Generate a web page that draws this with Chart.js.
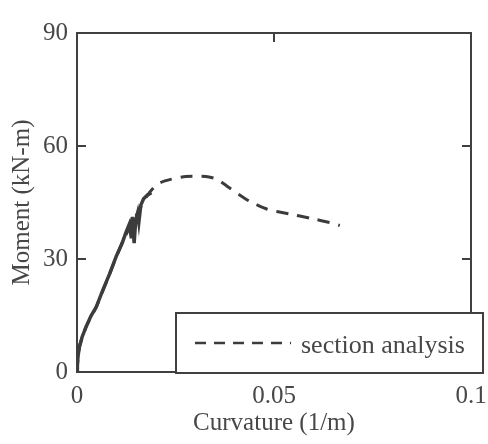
<!DOCTYPE html>
<html>
<head>
<meta charset="utf-8">
<script src="https://cdn.jsdelivr.net/npm/chart.js@4.4.0/dist/chart.umd.min.js"></script>
<style>
  html, body { margin: 0; padding: 0; background: #fff; }
  #wrap { width: 488px; height: 444px; }
</style>
</head>
<body>
<div id="wrap"><canvas id="momentChart" width="488" height="444"></canvas></div>
<script>
// test curve (solid)
const testCurvature = [0, 0.0001, 0.0003, 0.0006, 0.0013, 0.0023, 0.0035, 0.0049, 0.0065, 0.0083, 0.0100, 0.0114, 0.0124, 0.0133, 0.0138, 0.0141, 0.0145, 0.0149, 0.0154, 0.0157, 0.0162, 0.0169, 0.0179, 0.0189];
const testMoment    = [0, 2.3, 4.5, 6.6, 9.3, 12.0, 14.8, 17.3, 21.6, 26.1, 30.8, 34.0, 37.0, 39.3, 35.5, 41.2, 34.2, 40.2, 42.3, 39.8, 44.3, 46.0, 47.0, 47.6];

// section analysis (dashed)
const analysisCurvature = [0, 0.0006, 0.0023, 0.0049, 0.0083, 0.0115, 0.0150, 0.0178, 0.0195, 0.0212, 0.0240, 0.0276, 0.0327, 0.0355, 0.0380, 0.0410, 0.0440, 0.0483, 0.0538, 0.0593, 0.0648, 0.0667];
const analysisMoment    = [0, 6.6, 12.0, 17.3, 26.1, 34.5, 41.5, 46.8, 49.0, 50.3, 51.2, 51.9, 51.9, 51.2, 49.4, 47.2, 45.2, 43.2, 42.0, 40.8, 39.5, 38.9];

// axis ticks
const xTickValues = [0, 0.05, 0.1];
const xTickLabels = ['0', '0.05', '0.1'];
const yTickValues = [0, 30, 60, 90];
const yTickLabels = ['0', '30', '60', '90'];

const inkColor = '#3c3c3c';
const textColor = '#474747';
const serif = "'Liberation Serif', 'Times New Roman', serif";

const toPoints = (xs, ys) => xs.map((x, i) => ({ x, y: ys[i] }));

// box frame with inward tick marks
const framePlugin = {
  id: 'frame',
  beforeDatasetsDraw(chart) {
    const { ctx, chartArea: a, scales: { x, y } } = chart;
    ctx.save();
    ctx.strokeStyle = '#404040';
    ctx.lineWidth = 2;
    ctx.strokeRect(a.left, a.top, a.right - a.left, a.bottom - a.top);
    ctx.beginPath();
    y.ticks.forEach(t => {
      if (t.value <= y.min || t.value >= y.max) return;
      const py = Math.round(y.getPixelForValue(t.value));
      ctx.moveTo(a.left, py); ctx.lineTo(a.left + 9, py);
      ctx.moveTo(a.right, py); ctx.lineTo(a.right - 9, py);
    });
    x.ticks.forEach(t => {
      if (t.value <= x.min || t.value >= x.max) return;
      const px = Math.round(x.getPixelForValue(t.value));
      ctx.moveTo(px, a.top); ctx.lineTo(px, a.top + 9);
      ctx.moveTo(px, a.bottom); ctx.lineTo(px, a.bottom - 9);
    });
    ctx.stroke();
    ctx.restore();
  }
};

// boxed legend in the lower right, only the analysis entry
const boxLegendPlugin = {
  id: 'boxLegend',
  afterDraw(chart) {
    const { ctx } = chart;
    const ds = chart.data.datasets[1];
    const box = { left: 176, top: 313, right: 483, bottom: 373 };
    ctx.save();
    ctx.fillStyle = '#fff';
    ctx.fillRect(box.left, box.top, box.right - box.left, box.bottom - box.top);
    ctx.strokeStyle = '#404040';
    ctx.lineWidth = 2;
    ctx.strokeRect(box.left, box.top, box.right - box.left, box.bottom - box.top);
    ctx.strokeStyle = ds.borderColor;
    ctx.lineWidth = 2.5;
    ctx.setLineDash([11, 8]);
    ctx.beginPath();
    ctx.moveTo(195, 343);
    ctx.lineTo(291, 343);
    ctx.stroke();
    ctx.setLineDash([]);
    ctx.fillStyle = textColor;
    ctx.font = '26px ' + serif;
    ctx.textBaseline = 'alphabetic';
    ctx.fillText(ds.label, 301, 353);
    ctx.restore();
  }
};

new Chart(document.getElementById('momentChart'), {
  type: 'line',
  data: {
    datasets: [
      {
        label: 'test',
        data: toPoints(testCurvature, testMoment),
        borderColor: inkColor,
        borderWidth: 3.5,
        pointRadius: 0,
        tension: 0
      },
      {
        label: 'section analysis',
        data: toPoints(analysisCurvature, analysisMoment),
        borderColor: inkColor,
        borderWidth: 3,
        borderDash: [12, 9],
        pointRadius: 0,
        tension: 0.2
      }
    ]
  },
  options: {
    responsive: false,
    animation: false,
    layout: { padding: { left: 0, top: 33, right: 17, bottom: 6 } },
    plugins: {
      legend: { display: false },
      tooltip: { enabled: false }
    },
    scales: {
      x: {
        type: 'linear',
        min: 0,
        max: 0.1,
        afterBuildTicks: s => { s.ticks = xTickValues.map(v => ({ value: v })); },
        afterFit: s => { s.height = 66; s.paddingLeft = 0; s.paddingRight = 0; },
        ticks: {
          callback: v => xTickLabels[xTickValues.indexOf(v)],
          font: { family: serif, size: 25 },
          color: textColor,
          padding: 9,
          maxRotation: 0,
          autoSkip: false
        },
        grid: { display: false, drawTicks: false },
        border: { display: false },
        title: {
          display: true,
          text: 'Curvature (1/m)',
          font: { family: serif, size: 25 },
          color: textColor,
          padding: { top: 0, bottom: 0 }
        }
      },
      y: {
        type: 'linear',
        min: 0,
        max: 90,
        afterBuildTicks: s => { s.ticks = yTickValues.map(v => ({ value: v })); },
        afterFit: s => { s.width = 77; s.paddingTop = 0; s.paddingBottom = 0; },
        ticks: {
          callback: v => yTickLabels[yTickValues.indexOf(v)],
          font: { family: serif, size: 25 },
          color: textColor,
          padding: 9
        },
        grid: { display: false, drawTicks: false },
        border: { display: false },
        title: {
          display: true,
          text: 'Moment (kN-m)',
          font: { family: serif, size: 25 },
          color: textColor,
          padding: { top: 7, bottom: 0 }
        }
      }
    }
  },
  plugins: [framePlugin, boxLegendPlugin]
});
</script>
</body>
</html>
